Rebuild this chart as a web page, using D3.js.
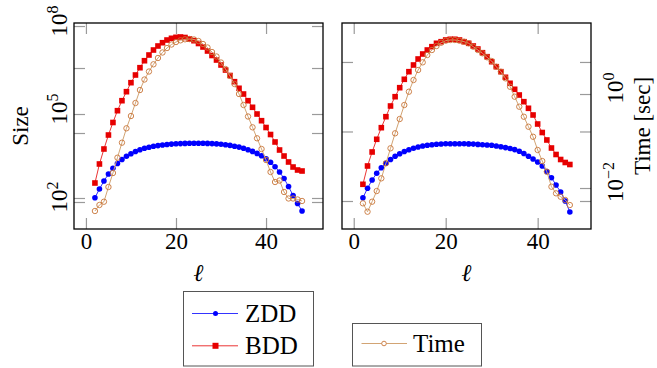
<!DOCTYPE html>
<html>
<head>
<meta charset="utf-8">
<script src="https://cdn.jsdelivr.net/npm/d3@7"></script>
<style>
  html, body { margin: 0; padding: 0; background: #fff; }
  svg text { font-family: "Liberation Serif", "Times New Roman", Times, Tinos, "DejaVu Serif", "Noto Serif", serif !important; }
</style>
</head>
<body>
<svg id="chart" width="657" height="368"></svg>
<script>
// ℓ values (x axis) for both panels
const ellLeft = [2,3,4,5,6,7,8,9,10,11,12,13,14,15,16,17,18,19,20,21,22,23,24,25,26,27,28,29,30,31,32,33,34,35,36,37,38,39,40,41,42,43,44,45,46,47,48];
const ellRight = [2,3,4,5,6,7,8,9,10,11,12,13,14,15,16,17,18,19,20,21,22,23,24,25,26,27,28,29,30,31,32,33,34,35,36,37,38,39,40,41,42,43,44,45,46,47];

// sizes and times, stored as log10 values
const zddLeftLog = [2.147,2.443,2.716,2.955,3.149,3.313,3.449,3.558,3.647,3.722,3.783,3.831,3.868,3.899,3.923,3.943,3.960,3.974,3.984,3.991,3.998,4.001,4.005,4.005,4.001,3.998,3.991,3.981,3.967,3.950,3.930,3.903,3.872,3.831,3.783,3.725,3.657,3.575,3.476,3.354,3.204,3.023,2.801,2.528,2.222,1.949,1.693];
const bddLeftLog = [2.648,3.296,3.807,4.284,4.711,5.113,5.454,5.761,6.068,6.330,6.579,6.817,7.012,7.182,7.319,7.431,7.523,7.581,7.615,7.626,7.609,7.558,7.499,7.404,7.285,7.148,6.995,6.841,6.671,6.500,6.313,6.102,5.877,5.682,5.454,5.229,5.000,4.772,4.540,4.301,4.046,3.773,3.568,3.364,3.193,3.091,3.057];
const timeLeftLog = [-2.400,-2.215,-2.114,-1.662,-1.231,-0.760,-0.298,0.145,0.523,0.923,1.323,1.646,1.892,2.114,2.308,2.477,2.615,2.723,2.800,2.852,2.883,2.892,2.877,2.831,2.738,2.631,2.492,2.354,2.169,1.969,1.754,1.508,1.200,0.862,0.508,0.175,-0.163,-0.492,-0.831,-1.200,-1.508,-1.462,-1.815,-2.015,-2.015,-2.046,-2.092];

const zddRightLog = [2.142,2.548,2.906,3.196,3.437,3.627,3.791,3.929,4.041,4.136,4.214,4.279,4.331,4.374,4.404,4.430,4.447,4.460,4.469,4.473,4.473,4.473,4.469,4.464,4.456,4.443,4.426,4.417,4.404,4.374,4.339,4.305,4.266,4.218,4.149,4.050,3.929,3.813,3.683,3.511,3.273,3.006,2.691,2.388,2.000,1.525];
const bddRightLog = [2.721,3.511,4.115,4.663,5.164,5.638,6.100,6.501,6.890,7.252,7.581,7.870,8.129,8.344,8.517,8.660,8.806,8.875,8.949,8.979,8.979,8.949,8.875,8.806,8.690,8.560,8.400,8.228,8.012,7.796,7.581,7.339,7.080,6.821,6.575,6.286,6.001,5.712,5.323,4.956,4.633,4.287,4.007,3.791,3.662,3.575];
const timeRightLog = [-2.326,-2.504,-2.291,-2.064,-1.794,-1.474,-1.155,-0.836,-0.532,-0.234,0.049,0.298,0.511,0.674,0.830,0.936,1.021,1.091,1.134,1.149,1.149,1.134,1.113,1.079,1.006,0.936,0.866,0.781,0.702,0.581,0.474,0.334,0.155,-0.057,-0.270,-0.483,-0.696,-0.909,-1.191,-1.426,-1.653,-1.972,-2.113,-2.185,-2.255,-2.362];

const xTicks = [0, 20, 40];
const sizeTickExp = [2, 5, 8];
const timeTickExpLeft = [-2, 0, 2];
const timeTickExpRight = [-2, 0];
const seriesNames = ["ZDD", "BDD"];
const timeName = "Time";

const colors = { zdd: "#0000ff", bdd: "#e60000", timeLine: "#d2a474", timeMark: "#c8763a" };
const tickColor = "#9a9a9a";

const svg = d3.select("#chart");
svg.append("rect").attr("width", 657).attr("height", 368).attr("fill", "#fff");

const panels = [
    {
        box: { left: 74, top: 23, right: 323, bottom: 229 },
        xDom: [-2.65, 52.65],
        sizeDom: [1.0795, 8.103],
        timeDom: [-2.954, 3.385],
        ell: ellLeft, zdd: zddLeftLog, bdd: bddLeftLog, time: timeLeftLog,
        timeTicks: timeTickExpLeft, timeTicksBothSides: true,
        labelSize: true
    },
    {
        box: { left: 342, top: 23, right: 591, bottom: 229 },
        xDom: [-2.55, 51.6],
        sizeDom: [0.7915, 9.682],
        timeDom: [-2.872, 1.511],
        ell: ellRight, zdd: zddRightLog, bdd: bddRightLog, time: timeRightLog,
        timeTicks: timeTickExpRight, timeTicksBothSides: false,
        labelSize: false
    }
];

function expLabel(g, x, y, exp) {
    const t = g.append("text")
        .attr("transform", `translate(${x},${y}) rotate(-90)`)
        .attr("text-anchor", "middle")
        .attr("font-size", 23)
        .attr("fill", "#000");
    t.append("tspan").text("10");
    t.append("tspan").attr("dy", -9).attr("font-size", 16).text(exp < 0 ? "\u2212" + (-exp) : String(exp));
}

function styleTicks(g) {
    g.select(".domain").remove();
    g.selectAll(".tick line").attr("stroke", tickColor).attr("stroke-width", 1.2);
}

panels.forEach(p => {
    const b = p.box;
    const x = d3.scaleLinear().domain(p.xDom).range([b.left, b.right]);
    const ySize = d3.scaleLog().domain(p.sizeDom.map(e => 10 ** e)).range([b.bottom, b.top]);
    const yTime = d3.scaleLog().domain(p.timeDom.map(e => 10 ** e)).range([b.bottom, b.top]);
    const g = svg.append("g");

    // x ticks, bottom (with labels) and top
    g.append("g")
        .attr("transform", `translate(0,${b.bottom})`)
        .call(d3.axisBottom(x).tickValues(xTicks).tickSizeInner(-11).tickSizeOuter(0).tickPadding(4))
        .call(styleTicks)
        .call(a => a.selectAll("text").attr("font-size", 23).attr("fill", "#000"));
    g.append("g")
        .attr("transform", `translate(0,${b.top})`)
        .call(d3.axisTop(x).tickValues(xTicks).tickSizeInner(-11).tickSizeOuter(0).tickFormat(""))
        .call(styleTicks);

    // size ticks on both sides
    const sizeVals = sizeTickExp.map(e => 10 ** e);
    g.append("g").attr("transform", `translate(${b.left},0)`)
        .call(d3.axisLeft(ySize).tickValues(sizeVals).tickSizeInner(-11).tickSizeOuter(0).tickFormat(""))
        .call(styleTicks);
    g.append("g").attr("transform", `translate(${b.right},0)`)
        .call(d3.axisRight(ySize).tickValues(sizeVals).tickSizeInner(-11).tickSizeOuter(0).tickFormat(""))
        .call(styleTicks);

    // time ticks
    const timeVals = p.timeTicks.map(e => 10 ** e);
    g.append("g").attr("transform", `translate(${b.right},0)`)
        .call(d3.axisRight(yTime).tickValues(timeVals).tickSizeInner(-11).tickSizeOuter(0).tickFormat(""))
        .call(styleTicks);
    if (p.timeTicksBothSides) {
        g.append("g").attr("transform", `translate(${b.left},0)`)
            .call(d3.axisLeft(yTime).tickValues(timeVals).tickSizeInner(-11).tickSizeOuter(0).tickFormat(""))
            .call(styleTicks);
    }

    // tick labels in 10^n form
    if (p.labelSize) {
        sizeTickExp.forEach(e => expLabel(g, b.left - 7, ySize(10 ** e) - 5, e));
    } else {
        p.timeTicks.forEach(e => expLabel(g, b.right + 32, yTime(10 ** e) - 6, e));
    }

    // frame
    g.append("rect")
        .attr("x", b.left).attr("y", b.top)
        .attr("width", b.right - b.left).attr("height", b.bottom - b.top)
        .attr("fill", "none").attr("stroke", "#000").attr("stroke-width", 1.3);

    // x label
    g.append("text")
        .attr("x", (b.left + b.right) / 2).attr("y", 281)
        .attr("text-anchor", "middle")
        .attr("font-size", 24).attr("font-style", "italic")
        .text("\u2113");

    const zddPts = p.ell.map((l, i) => [x(l), ySize(10 ** p.zdd[i])]);
    const bddPts = p.ell.map((l, i) => [x(l), ySize(10 ** p.bdd[i])]);
    const timePts = p.ell.map((l, i) => [x(l), yTime(10 ** p.time[i])]);
    const line = d3.line();

    // ZDD
    g.append("path").attr("d", line(zddPts)).attr("fill", "none").attr("stroke", colors.zdd).attr("stroke-width", 0.8);
    g.append("g").selectAll("circle").data(zddPts).join("circle")
        .attr("cx", d => d[0]).attr("cy", d => d[1]).attr("r", 2.8)
        .attr("fill", colors.zdd);

    // BDD
    g.append("path").attr("d", line(bddPts)).attr("fill", "none").attr("stroke", colors.bdd).attr("stroke-width", 0.8);
    g.append("g").selectAll("rect").data(bddPts).join("rect")
        .attr("x", d => d[0] - 2.8).attr("y", d => d[1] - 2.8)
        .attr("width", 5.6).attr("height", 5.6)
        .attr("fill", colors.bdd);

    // Time
    g.append("path").attr("d", line(timePts)).attr("fill", "none").attr("stroke", colors.timeLine).attr("stroke-width", 1);
    g.append("g").selectAll("circle").data(timePts).join("circle")
        .attr("cx", d => d[0]).attr("cy", d => d[1]).attr("r", 2.7)
        .attr("fill", "none").attr("stroke", colors.timeMark).attr("stroke-width", 0.9);
});

// axis titles
svg.append("text")
    .attr("transform", "translate(28,126) rotate(-90)")
    .attr("text-anchor", "middle").attr("font-size", 23)
    .text("Size");
svg.append("text")
    .attr("transform", "translate(650,126) rotate(-90)")
    .attr("text-anchor", "middle").attr("font-size", 23)
    .text("Time [sec]");

// legends
const leg1 = svg.append("g");
leg1.append("rect").attr("x", 183.5).attr("y", 291.5).attr("width", 130).attr("height", 74.5)
    .attr("fill", "#fff").attr("stroke", "#555").attr("stroke-width", 1);
seriesNames.forEach((name, i) => {
    const y = 313.5 + i * 32.3;
    const c = i === 0 ? colors.zdd : colors.bdd;
    leg1.append("line").attr("x1", 192).attr("x2", 238).attr("y1", y).attr("y2", y)
        .attr("stroke", c).attr("stroke-width", 0.8);
    if (i === 0) {
        leg1.append("circle").attr("cx", 215.5).attr("cy", y).attr("r", 2.5).attr("fill", c);
    } else {
        leg1.append("rect").attr("x", 212.5).attr("y", y - 3).attr("width", 6).attr("height", 6).attr("fill", c);
    }
    leg1.append("text").attr("x", 245).attr("y", y + 8.5).attr("font-size", 25).text(name);
});

const leg2 = svg.append("g");
leg2.append("rect").attr("x", 352.5).attr("y", 323.5).attr("width", 129).attr("height", 42.5)
    .attr("fill", "#fff").attr("stroke", "#555").attr("stroke-width", 1);
leg2.append("line").attr("x1", 361.5).attr("x2", 407).attr("y1", 343.5).attr("y2", 343.5)
    .attr("stroke", colors.timeLine).attr("stroke-width", 1);
leg2.append("circle").attr("cx", 384).attr("cy", 343.5).attr("r", 2.3)
    .attr("fill", "#fff").attr("stroke", colors.timeMark).attr("stroke-width", 0.9);
leg2.append("text").attr("x", 413).attr("y", 352).attr("font-size", 25).text(timeName);
</script>
</body>
</html>
